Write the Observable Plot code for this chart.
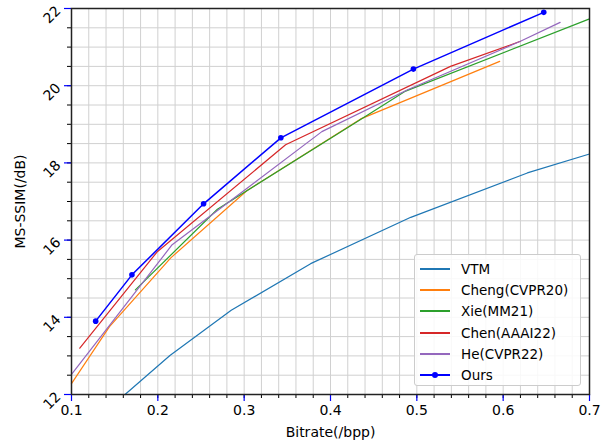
<!DOCTYPE html>
<html>
<head>
<meta charset="utf-8">
<script src="https://cdn.jsdelivr.net/npm/d3@7"></script>
<script src="https://cdn.jsdelivr.net/npm/@observablehq/plot@0.6"></script>
<style>
  body { margin: 0; background: #fff; font-family: "DejaVu Sans", sans-serif; }
  #wrap { position: relative; width: 605px; height: 442px; }
  #legend { position: absolute; left: 414px; top: 254px; width: 167px; height: 132px;
    border: 1px solid #cccccc; border-radius: 3px; background: rgba(255,255,255,0.85);
    font-size: 13.5px; color: #000; box-sizing: border-box; padding-top: 3px; }
  .row { height: 21.3px; display: flex; align-items: center; }
  .sw { position: relative; width: 30px; height: 10px; margin-left: 5px; margin-right: 11px; }
  .sw .ln { position: absolute; left: 0; right: 0; top: 4px; height: 2px; }
  .sw .dt { position: absolute; left: 12px; top: 2px; width: 6px; height: 6px; border-radius: 50%; }
</style>
</head>
<body>
<div id="wrap"></div>
<script>
// ---- data ----
const seriesNames = ["VTM", "Cheng(CVPR20)", "Xie(MM21)", "Chen(AAAI22)", "He(CVPR22)", "Ours"];
const seriesColors = ["#1f77b4", "#ff7f0e", "#2ca02c", "#d62728", "#9467bd", "#0000ff"];

const vtmX = [0.162, 0.214, 0.285, 0.377, 0.493, 0.628, 0.700];
const vtmY = [12.00, 13.01, 14.18, 15.39, 16.59, 17.74, 18.23];

const chengX = [0.100, 0.144, 0.215, 0.303, 0.435, 0.596];
const chengY = [12.28, 13.76, 15.54, 17.28, 19.14, 20.63];

const xieX = [0.174, 0.269, 0.433, 0.487, 0.700];
const xieY = [14.71, 16.80, 19.10, 19.86, 21.73];

const chenX = [0.1096, 0.199, 0.348, 0.539, 0.620];
const chenY = [13.20, 15.69, 18.47, 20.50, 21.15];

const heX = [0.100, 0.2166, 0.390, 0.490, 0.620, 0.666];
const heY = [12.52, 15.88, 18.81, 19.90, 21.15, 21.64];

const oursX = [0.128, 0.170, 0.253, 0.3425, 0.496, 0.647];
const oursY = [13.90, 15.10, 16.94, 18.65, 20.43, 21.90];

const xTicks = [0.1, 0.2, 0.3, 0.4, 0.5, 0.6, 0.7];
const yTicks = [12, 14, 16, 18, 20, 22];

// ---- build ----
const allX = [vtmX, chengX, xieX, chenX, heX, oursX];
const allY = [vtmY, chengY, xieY, chenY, heY, oursY];
const rows = [];
allX.forEach((xs, i) => xs.forEach((x, j) => rows.push({series: seriesNames[i], x, y: allY[i][j]})));

const xMinor = d3.range(0.1, 0.7001, 0.02).map(v => +v.toFixed(2));
const yMinor = d3.range(12, 22.001, 0.5);

const font = "DejaVu Sans, sans-serif";
const chart = Plot.plot({
  width: 605, height: 442,
  marginLeft: 71, marginRight: 16, marginTop: 8, marginBottom: 48,
  style: {fontFamily: font, fontSize: "13.5px", background: "#fff", color: "#000"},
  x: {domain: [0.1, 0.7]},
  y: {domain: [12, 22]},
  color: {domain: seriesNames, range: seriesColors},
  marks: [
    Plot.gridX(xMinor, {stroke: "#d0d0d0", strokeOpacity: 1, strokeWidth: 1}),
    Plot.gridY(yMinor, {stroke: "#d0d0d0", strokeOpacity: 1, strokeWidth: 1}),
    Plot.line(rows.filter(d => d.series !== "Ours"), {x: "x", y: "y", z: "series", stroke: "series", strokeWidth: 1.2}),
    Plot.line(rows.filter(d => d.series === "Ours"), {x: "x", y: "y", stroke: "series", strokeWidth: 1.5}),
    Plot.dot(rows.filter(d => d.series === "Ours"), {x: "x", y: "y", fill: "series", r: 2.8}),
    Plot.axisX(xMinor, {tickSize: 4, text: null, stroke: "#000", label: null}),
    Plot.axisY(yMinor, {tickSize: 4, text: null, stroke: "#000", label: null}),
    Plot.axisX(xTicks, {tickSize: 7, tickPadding: 4, stroke: "blue", strokeWidth: 1.2, tickFormat: d3.format(".1f"),
      fontSize: 14, label: "Bitrate(/bpp)", labelAnchor: "center", labelOffset: 42, labelArrow: "none"}),
    Plot.axisY(yTicks, {tickSize: 7, tickPadding: 6, stroke: "blue", strokeWidth: 1.2, tickRotate: -45, tickFormat: d => d,
      fontSize: 14, label: "MS-SSIM(/dB)", labelAnchor: "center", labelOffset: 56, labelArrow: "none"}),
    Plot.frame({stroke: "#222", strokeWidth: 1.5})
  ]
});

const wrap = document.getElementById("wrap");
wrap.appendChild(chart);

const legend = document.createElement("div");
legend.id = "legend";
seriesNames.forEach((name, i) => {
  const row = document.createElement("div");
  row.className = "row";
  const sw = document.createElement("div");
  sw.className = "sw";
  const ln = document.createElement("div");
  ln.className = "ln";
  ln.style.background = seriesColors[i];
  sw.appendChild(ln);
  if (name === "Ours") {
    const dt = document.createElement("div");
    dt.className = "dt";
    dt.style.background = seriesColors[i];
    sw.appendChild(dt);
  }
  row.appendChild(sw);
  const t = document.createElement("span");
  t.textContent = name;
  row.appendChild(t);
  legend.appendChild(row);
});
wrap.appendChild(legend);
</script>
</body>
</html>
